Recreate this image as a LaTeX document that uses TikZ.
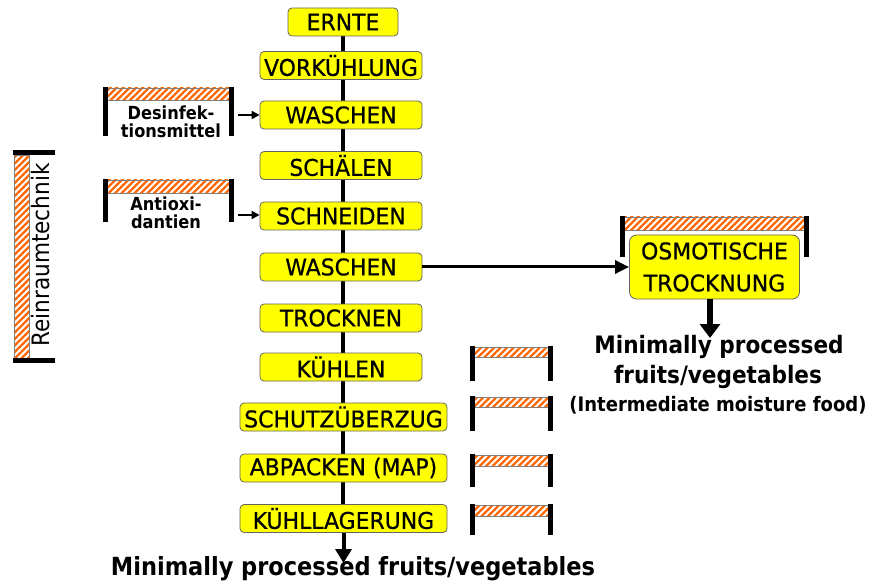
\documentclass[tikz,border=0pt]{standalone}
\usepackage{fontspec}
\setmainfont{DejaVu Sans}
\newfontfamily\condfont{DejaVu Sans Condensed}
\newfontfamily\boxfont[FakeStretch=1.06,FakeBold=0.6]{DejaVu Sans Condensed}
\usetikzlibrary{arrows.meta,patterns.meta,backgrounds}

\definecolor{stepyellow}{RGB}{255,255,0}
\definecolor{hatchorange}{RGB}{255,102,0}
\definecolor{boxgray}{RGB}{100,100,100}

\tikzset{
  x=1pt, y=-1pt,
  stepbox/.style={draw=boxgray, line width=0.8pt, fill=stepyellow,
    rounded corners=4pt, minimum height=28pt, inner sep=0pt,
    font=\boxfont\fontsize{23}{23}\selectfont},
  hatchband/.style={draw=gray, line width=0.6pt,
    pattern={Lines[angle=45,distance=4.6pt,line width=2.3pt]},
    pattern color=hatchorange},
  flow/.style={line width=4pt},
  feed/.style={line width=2.5pt, -{Triangle[length=8pt,width=8pt]}},
  sidelabel/.style={align=center, inner sep=0pt,
    font=\condfont\bfseries\fontsize{18}{17.5}\selectfont},
  outlabel/.style={inner sep=0pt, font=\condfont\bfseries\fontsize{24}{24}\selectfont},
}

% a hatched barrier: left x, right x, band top, band bottom, post bottom
\newcommand\hatchbar[5]{%
  \path[hatchband] (#1,#3) rectangle (#2,#4);
  \fill (#1-2.5,#3-1) rectangle (#1+2.5,#5);
  \fill (#2-2.5,#3-1) rectangle (#2+2.5,#5);
}

\begin{document}
\begin{tikzpicture}
\useasboundingbox (0,0) rectangle (873,588);

% process chain
\node[stepbox, minimum width=110pt] (ernte)    at (343,22)    {ERNTE};
\node[stepbox, minimum width=162pt] (vork)     at (341,65.5)  {VORKÜHLUNG};
\node[stepbox, minimum width=162pt] (wasch1)   at (341,115)   {WASCHEN};
\node[stepbox, minimum width=162pt] (schael)   at (341,165.5) {SCHÄLEN};
\node[stepbox, minimum width=162pt] (schneid)  at (341,216)   {SCHNEIDEN};
\node[stepbox, minimum width=162pt] (wasch2)   at (341,267)   {WASCHEN};
\node[stepbox, minimum width=162pt] (trock)    at (341,318)   {TROCKNEN};
\node[stepbox, minimum width=162pt] (kuehl)    at (341,367)   {KÜHLEN};
\node[stepbox, minimum width=207pt] (schutz)   at (343.5,417) {SCHUTZÜBERZUG};
\node[stepbox, minimum width=207pt] (abpack)   at (343.5,468) {ABPACKEN (MAP)};
\node[stepbox, minimum width=207pt] (kuehllag) at (343.5,518.5) {KÜHLLAGERUNG};

\begin{scope}[on background layer]
  \draw[flow] (ernte.center |- 0,22) -- (ernte.center |- 0,518);
\end{scope}

\coordinate (endtip) at (343.5,563);
\draw[line width=4pt, -{Triangle[length=14pt,width=16pt]}] (kuehllag.south) -- (endtip);
\node[outlabel, font=\condfont\bfseries\fontsize{25}{25}\selectfont]
  (final) at (353,569) {Minimally processed fruits/vegetables};

% side branch: osmotic drying
\node[stepbox, minimum width=170pt, minimum height=64pt, rounded corners=7pt,
      align=center, font=\boxfont\fontsize{23}{32}\selectfont]
  (osmo) at (714.5,267) {OSMOTISCHE\\TROCKNUNG};
\draw[line width=3pt, -{Triangle[length=14pt,width=13pt]}] (wasch2.east) -- (osmo.west);
\hatchbar{622}{806}{217}{230}{257}

\coordinate (osmotip) at (710,338);
\draw[line width=6pt, -{Triangle[length=14pt,width=20pt]}] (osmo.south -| osmotip) -- (osmotip);
\node[outlabel] (mp1) at (719,347) {Minimally processed};
\node[outlabel] (mp2) at (718,377) {fruits/vegetables};
\node[inner sep=0pt, font=\condfont\bfseries\fontsize{20}{20}\selectfont]
  (mp3) at (718,405) {(Intermediate moisture food)};

% additives
\hatchbar{105}{231}{88}{100}{136}
\node[sidelabel] (desinf) at (171,122) {Desinfek-\\tionsmittel};
\coordinate (d1) at (238,115);
\draw[feed] (d1) -- (wasch1.west |- d1);

\hatchbar{105}{231}{180}{193}{222}
\node[sidelabel] (antiox) at (166,213) {Antioxi-\\dantien};
\coordinate (a1) at (238,215);
\draw[feed] (a1) -- (schneid.west |- a1);

% barriers beside the final steps
\hatchbar{472}{550}{347}{357}{381}
\hatchbar{472}{550}{397}{407}{431}
\hatchbar{472}{550}{455}{466}{487}
\hatchbar{472}{550}{505}{516}{535}

% clean room technology
\path[hatchband] (14,155) rectangle (29,358);
\fill (13,150) rectangle (55,155);
\fill (13,358) rectangle (55,363);
\node[rotate=90, inner sep=0pt, font=\condfont\fontsize{24}{24}\selectfont]
  (rein) at (41,255) {Reinraumtechnik};

\end{tikzpicture}
\end{document}
